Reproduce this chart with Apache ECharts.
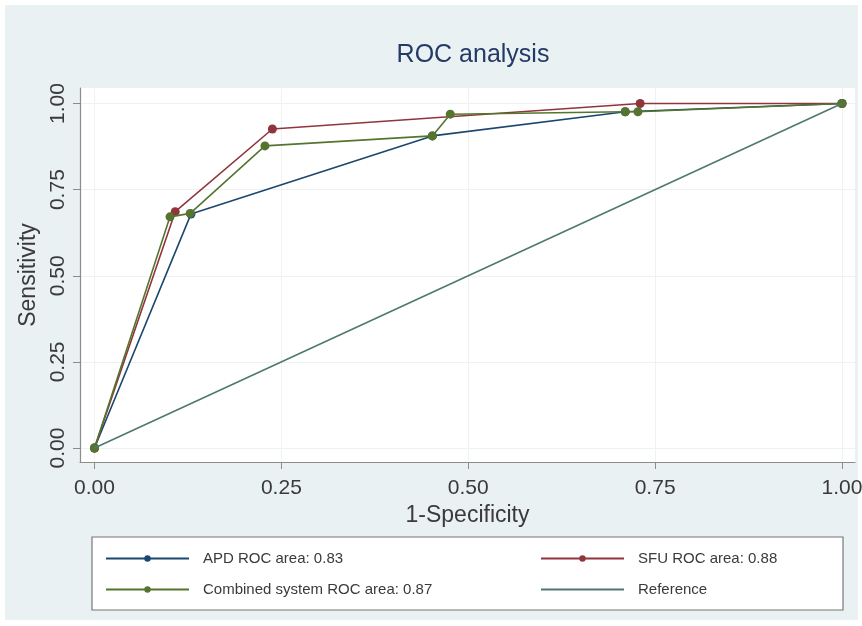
<!DOCTYPE html>
<html>
<head>
<meta charset="utf-8">
<script src="https://cdn.jsdelivr.net/npm/echarts@6/dist/echarts.min.js"></script>
<style>
html,body{margin:0;padding:0;background:#fff;}
#chart{width:862px;height:626px;}
</style>
</head>
<body>
<div id="chart"></div>
<script>
// ---- data ----
var titleText = 'ROC analysis';
var xName = '1-Specificity';
var yName = 'Sensitivity';
var tickValues = [0, 0.25, 0.5, 0.75, 1];
var seriesNames = ['APD ROC area: 0.83', 'SFU ROC area: 0.88', 'Combined system ROC area: 0.87', 'Reference'];
var apdX = [0, 0.129, 0.452, 0.710, 1];
var apdY = [0, 0.679, 0.906, 0.976, 1];
var sfuX = [0, 0.108, 0.238, 0.730, 1];
var sfuY = [0, 0.686, 0.926, 1.000, 1];
var combX = [0, 0.101, 0.128, 0.228, 0.452, 0.476, 0.710, 0.727, 1];
var combY = [0, 0.671, 0.681, 0.877, 0.906, 0.969, 0.976, 0.976, 1];
var refX = [0, 1];
var refY = [0, 1];

function pairs(xs, ys) { return xs.map(function (x, i) { return [x, ys[i]]; }); }

var colors = ['#1a476f', '#90353b', '#55752f', '#4e7870'];
var font = '"Liberation Sans", Arial, sans-serif';
var textColor = '#3a3a3a';

var chart = echarts.init(document.getElementById('chart'), null, { renderer: 'canvas' });

function lineSeries(name, data, color, withSymbol, z) {
  return {
    name: name,
    type: 'line',
    data: data,
    z: z,
    symbol: withSymbol ? 'circle' : 'none',
    symbolSize: 9,
    showSymbol: withSymbol,
    lineStyle: { color: color, width: 1.6 },
    itemStyle: { color: color },
    emphasis: { disabled: true },
    animation: false
  };
}

function legendCfg(left, items) {
  return {
    data: items,
    orient: 'vertical', left: left, top: 551, z: 10, padding: 0,
    itemWidth: 83, itemHeight: 8, itemGap: 16,
    textStyle: { fontFamily: font, fontSize: 15, color: textColor, padding: [0, 0, 0, 9] },
    selectedMode: false
  };
}

var option = {
  backgroundColor: '#ffffff',
  animation: false,
  title: {
    text: titleText,
    left: 468, top: 38, textAlign: 'center',
    textStyle: { fontFamily: font, fontSize: 25, fontWeight: 'normal', color: '#243a66' }
  },
  graphic: [
    { type: 'rect', z: -10, shape: { x: 5, y: 5, width: 853, height: 615 }, style: { fill: '#eaf1f3' } },
    { type: 'rect', z: 5, shape: { x: 92, y: 537, width: 751, height: 73 }, style: { fill: '#ffffff', stroke: '#777777', lineWidth: 1.2 } }
  ],
  grid: {
    left: 80, right: 7, top: 88, bottom: 164,
    outerBoundsMode: 'none', containLabel: false,
    show: true, backgroundColor: '#ffffff', borderWidth: 0
  },
  xAxis: {
    type: 'value',
    min: -0.0194, max: 1.0174,
    name: xName, nameLocation: 'middle', nameGap: 38,
    nameTextStyle: { fontFamily: font, fontSize: 23, color: textColor },
    axisLine: { show: true, onZero: false, lineStyle: { color: '#8c8c8c', width: 1.2 } },
    axisTick: { show: true, length: 7, customValues: tickValues, lineStyle: { color: '#8c8c8c' } },
    axisLabel: { customValues: tickValues, fontFamily: font, fontSize: 21, color: textColor, margin: 16,
      formatter: function (v) { return v.toFixed(2); } },
    splitLine: { show: true, lineStyle: { color: '#eef2f3', width: 1 } }
  },
  yAxis: {
    type: 'value',
    min: -0.0406, max: 1.045,
    name: yName, nameLocation: 'middle', nameGap: 38, nameRotate: 90,
    nameTextStyle: { fontFamily: font, fontSize: 23, color: textColor },
    axisLine: { show: true, onZero: false, lineStyle: { color: '#8c8c8c', width: 1.2 } },
    axisTick: { show: true, length: 7, customValues: tickValues, lineStyle: { color: '#8c8c8c' } },
    axisLabel: { customValues: tickValues, rotate: 90, fontFamily: font, fontSize: 21, color: textColor, margin: 11,
      formatter: function (v) { return v.toFixed(2); } },
    splitLine: { show: true, lineStyle: { color: '#eef2f3', width: 1 } }
  },
  legend: [
    legendCfg(105, [{ name: seriesNames[0] }, { name: seriesNames[2] }]),
    legendCfg(540, [{ name: seriesNames[1] }, { name: seriesNames[3], itemStyle: { opacity: 0 } }])
  ],
  series: [
    lineSeries(seriesNames[0], pairs(apdX, apdY), colors[0], true, 2),
    lineSeries(seriesNames[1], pairs(sfuX, sfuY), colors[1], true, 3),
    lineSeries(seriesNames[2], pairs(combX, combY), colors[2], true, 4),
    lineSeries(seriesNames[3], pairs(refX, refY), colors[3], false, 5)
  ]
};
chart.setOption(option);
</script>
</body>
</html>
